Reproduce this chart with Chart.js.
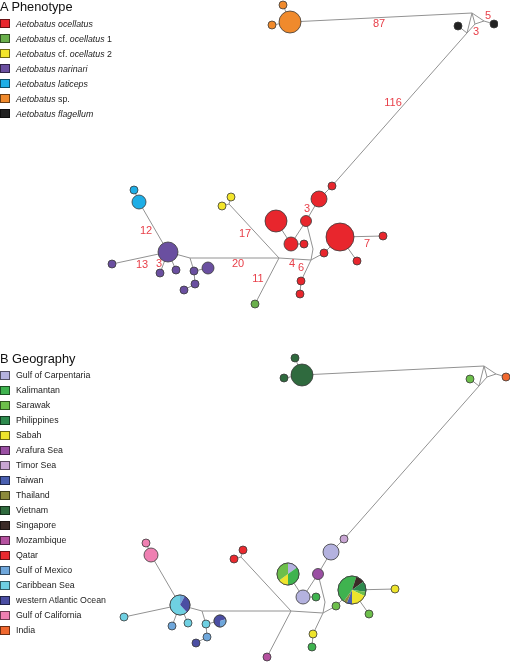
<!DOCTYPE html>
<html><head><meta charset="utf-8">
<script src="https://cdn.jsdelivr.net/npm/chart.js@4.4.0/dist/chart.umd.min.js"></script>
<style>
html,body{margin:0;padding:0;background:#fff;width:510px;height:662px;overflow:hidden;font-family:"Liberation Sans",Arial,sans-serif;}
#wrap{position:relative;width:510px;height:662px;}
canvas{position:absolute;}
.title{position:absolute;left:0;font-size:12.8px;line-height:13px;color:#111;white-space:nowrap;}
.row{position:absolute;left:0;height:15px;display:flex;align-items:center;font-size:8.8px;color:#222;white-space:nowrap;}
.sw{box-sizing:border-box;width:10px;height:9px;border:1px solid rgba(0,0,0,0.55);margin-right:6px;}
</style></head>
<body><div id="wrap">
<canvas id="cA" width="498" height="309" style="left:0;top:0"></canvas>
<canvas id="cB" width="498" height="309" style="left:12px;top:353px"></canvas>
<div class="title" style="top:0">A Phenotype</div>
<div id="legA"></div>
<div class="title" style="top:352px">B Geography</div>
<div id="legB"></div>
</div>
<script>
// ---- categories ----
const phenoNames = ['<i>Aetobatus ocellatus</i>','<i>Aetobatus</i> cf. <i>ocellatus</i> 1','<i>Aetobatus</i> cf. <i>ocellatus</i> 2','<i>Aetobatus narinari</i>','<i>Aetobatus laticeps</i>','<i>Aetobatus</i> sp.','<i>Aetobatus flagellum</i>'];
const phenoColors = ['#e8262d','#6ab04c','#f3e52b','#6a4fa0','#1eaee6','#f08a2c','#222222'];
const geoNames = ['Gulf of Carpentaria','Kalimantan','Sarawak','Philippines','Sabah','Arafura Sea','Timor Sea','Taiwan','Thailand','Vietnam','Singapore','Mozambique','Qatar','Gulf of Mexico','Caribbean Sea','western Atlantic Ocean','Gulf of California','India'];
const geoColors = ['#b4b2df','#3fb34f','#6dbf4b','#2d8a4e','#eee42c','#9a4fa3','#c8a5d3','#4a5fb0','#8c8a3c','#2f6a3e','#3b2b27','#b5519f','#ea2a2f','#6fa7db','#6fd0e2','#4b4ea3','#ef80b2','#f0682f'];

// ---- haplotype network layout (layout units) ----
const nodeX = [290,283,272,458,494,332,319,306,276,291,304,340,383,357,324,301,300,255,222,231,168,139,134,112,160,176,194,208,195,184];
const nodeY = [22,5,25,26,24,186,199,221,221,244,244,237,236,261,253,281,294,304,206,197,252,202,190,264,273,270,271,268,284,290];
const nodeSize = [11,4,4,4,4,4,8,5.5,11,7,4,14,4,4,4,4,4,4,4,4,10,7,4,4,4,4,4,6,4,4];
const nodePheno = [5,5,5,6,6,0,0,0,0,0,0,0,0,0,0,0,0,1,2,2,3,4,4,3,3,3,3,3,3,3];
// geography: single region index, or -1 for mixed (pie) haplotypes
const nodeGeo = [9,9,9,2,17,6,0,5,-1,0,1,-1,4,2,2,4,1,11,12,12,-1,16,16,14,13,14,14,-1,13,15];
const pieNodes = [8,11,20,27];
const pieRegions = [[0,1,4,2],[1,10,3,2,4,7,8,1],[13,15,14],[15,13,15]];
const pieShares = [[0.15,0.35,0.15,0.35],[0.05,0.10,0.12,0.05,0.18,0.06,0.04,0.40],[0.08,0.30,0.62],[0.2,0.3,0.5]];
const junctionX = [472,484,475,467,229,279,190,311,313];
const junctionY = [13,21,24,33,204,258,258,260,249];
const edgeFrom = [0,0,0,30,30,31,32,30,31,33,33,5,6,7,9,9,7,38,37,35,34,34,35,35,36,36,26,26,28,20,21,20,20,20,37,14,11,11,37,15];
const edgeTo   = [30,1,2,31,32,32,33,33,4,3,5,6,7,9,8,10,38,37,35,34,18,19,17,36,20,26,27,28,29,21,22,23,24,25,14,11,12,13,15,16];
// mutation steps
const stepLabels = ['87','5','3','116','3','7','17','12','13','3','20','11','4','6'];
const stepX = [379,488,476,393,307,367,245,146,142,159,238,258,292,301];
const stepY = [24,16,32,103,209,244,234,231,265,264,264,279,264,268];

// ---- legends (HTML text) ----
function legend(id, names, colors, top0){
  const el=document.getElementById(id);
  names.forEach((n,i)=>{
    const r=document.createElement('div');r.className='row';
    r.style.top=(top0+15*i-7.5)+'px';
    r.innerHTML='<span class="sw" style="background:'+colors[i]+'"></span><span>'+n+'</span>';
    el.appendChild(r);
  });
}
legend('legA',phenoNames,phenoColors,23.7);
legend('legB',geoNames,geoColors,375.2);

const allX = nodeX.concat(junctionX), allY = nodeY.concat(junctionY);
function edgeData(){
  const d=[];
  edgeFrom.forEach((a,i)=>{const b=edgeTo[i];
    d.push({x:allX[a],y:allY[a]});d.push({x:allX[b],y:allY[b]});d.push({x:null,y:null});});
  return d;
}
function makeChart(id, colorOf, drawLabels, drawPies){
  const plugin={id:'extra'+id,afterDatasetsDraw(chart){
    const ctx=chart.ctx, xs=chart.scales.x, ys=chart.scales.y;
    ctx.save();
    if(drawPies){
      pieNodes.forEach((n,k)=>{
        const cx=xs.getPixelForValue(nodeX[n]), cy=ys.getPixelForValue(nodeY[n]), r=nodeSize[n];
        let a=-Math.PI/2;
        pieShares[k].forEach((s,j)=>{
          const b=a+s*2*Math.PI;
          ctx.beginPath();ctx.moveTo(cx,cy);ctx.arc(cx,cy,r,a,b);ctx.closePath();
          ctx.fillStyle=geoColors[pieRegions[k][j]];ctx.fill();a=b;});
        ctx.beginPath();ctx.arc(cx,cy,r,0,2*Math.PI);ctx.lineWidth=0.8;ctx.strokeStyle='#3a3a3a';ctx.stroke();
      });
    }
    if(drawLabels){
      ctx.font='11px "Liberation Sans", Arial, sans-serif';ctx.fillStyle='#e8404a';
      ctx.textAlign='center';ctx.textBaseline='middle';
      stepLabels.forEach((t,i)=>ctx.fillText(t,xs.getPixelForValue(stepX[i]),ys.getPixelForValue(stepY[i])));
    }
    ctx.restore();
  }};
  return new Chart(document.getElementById(id),{
    data:{datasets:[
      {type:'bubble',order:1,clip:false,
       data:nodeX.map((x,i)=>({x:x,y:nodeY[i],r:nodeSize[i]})),
       backgroundColor:nodeX.map((x,i)=>colorOf(i)),
       borderColor:'#3a3a3a',borderWidth:0.8,hoverRadius:0},
      {type:'scatter',order:2,clip:false,showLine:true,spanGaps:false,pointRadius:0,
       borderColor:'#929292',borderWidth:1,data:edgeData()}
    ]},
    options:{responsive:false,animation:false,events:[],
      layout:{padding:0,autoPadding:false},
      plugins:{legend:{display:false},tooltip:{enabled:false}},
      scales:{x:{type:'linear',min:0,max:498,display:false},
              y:{type:'linear',min:0,max:309,reverse:true,display:false}}},
    plugins:[plugin]
  });
}
makeChart('cA',i=>phenoColors[nodePheno[i]],true,false);
makeChart('cB',i=>nodeGeo[i]>=0?geoColors[nodeGeo[i]]:'#ffffff',false,true);
</script>
</body></html>
